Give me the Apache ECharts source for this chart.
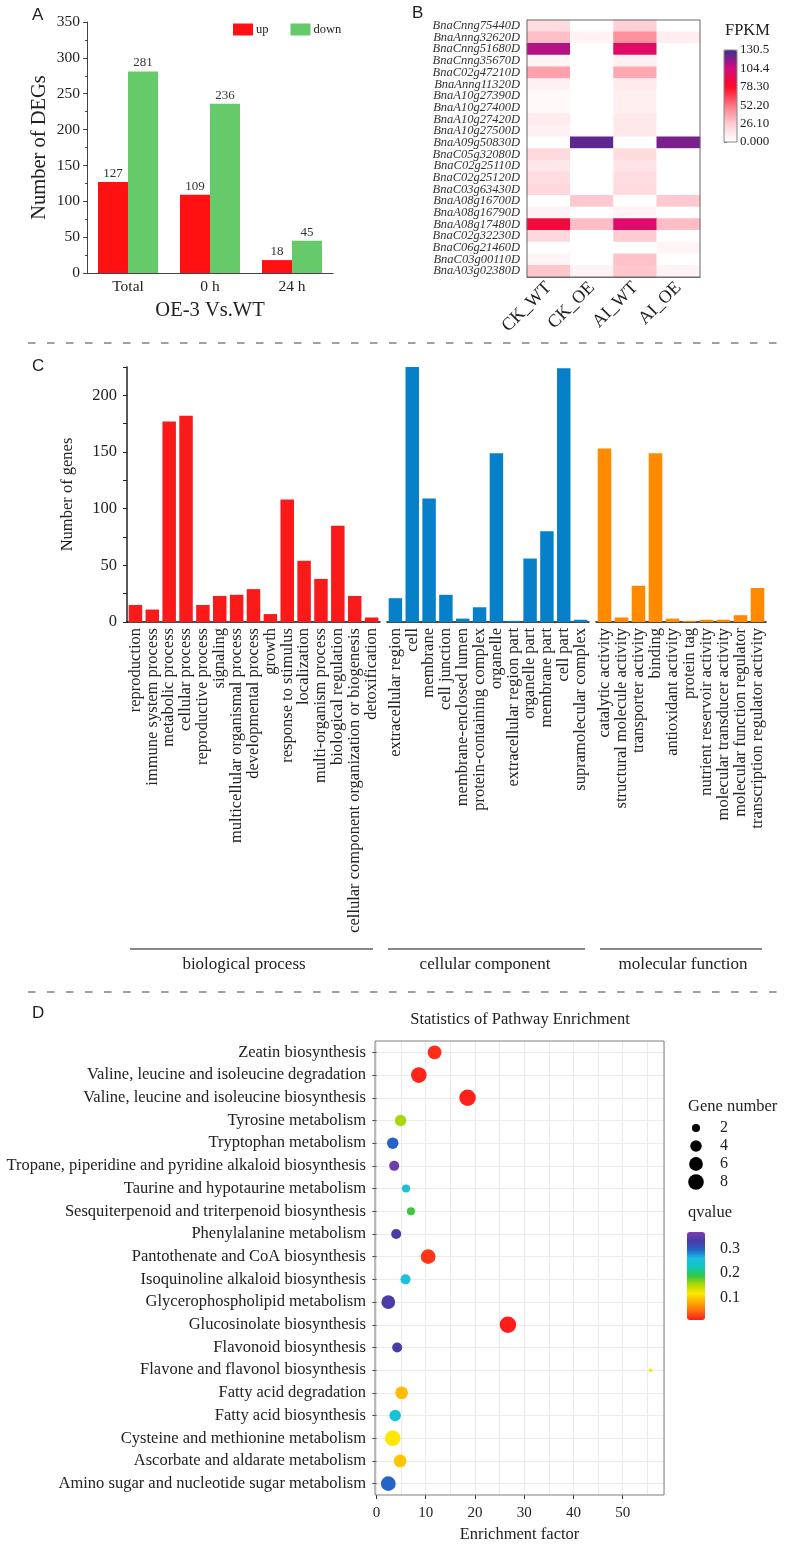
<!DOCTYPE html>
<html>
<head>
<meta charset="utf-8">
<title>DEGs, GO classification and KEGG enrichment</title>
<script src="https://cdn.jsdelivr.net/npm/echarts@6/dist/echarts.min.js"></script>
<style>
html, body { margin: 0; padding: 0; background: #fff; }
#chart { width: 786px; height: 1554px; }
</style>
</head>
<body>
<div id="chart"></div>
<script>
// ---- panel A: number of DEGs
var degGroups = ['Total', '0 h', '24 h'];
var degUp = [127, 109, 18];
var degDown = [281, 236, 45];

// ---- panel B: FPKM heatmap
var conditions = ['CK_WT', 'CK_OE', 'AI_WT', 'AI_OE'];
var genes = [
  'BnaCnng75440D', 'BnaAnng32620D', 'BnaCnng51680D', 'BnaCnng35670D', 'BnaC02g47210D',
  'BnaAnng11320D', 'BnaA10g27390D', 'BnaA10g27400D', 'BnaA10g27420D', 'BnaA10g27500D',
  'BnaA09g50830D', 'BnaC05g32080D', 'BnaC02g25110D', 'BnaC02g25120D', 'BnaC03g63430D',
  'BnaA08g16700D', 'BnaA08g16790D', 'BnaA08g17480D', 'BnaC02g32230D', 'BnaC06g21460D',
  'BnaC03g00110D', 'BnaA03g02380D'
];
// one row per gene, columns follow `conditions`
var fpkm = [
  [18, 0, 24, 0],
  [30, 6, 44, 9],
  [110, 0, 97, 0],
  [5, 0, 7, 0],
  [39, 0, 37, 0],
  [7, 0, 10, 0],
  [3, 0, 8, 0],
  [3, 0, 8, 0],
  [10, 0, 12, 0],
  [7, 0, 12, 0],
  [0, 125, 0, 120],
  [19, 0, 18, 0],
  [13, 0, 14, 0],
  [18, 0, 18, 0],
  [20, 0, 19, 0],
  [0, 27, 0, 27],
  [6, 0, 6, 0],
  [86, 31, 99, 31],
  [20, 0, 26, 0],
  [0, 0, 0, 5],
  [5, 0, 29, 0],
  [28, 6, 28, 6]
];
var fpkmMax = 130.5;
var fpkmTicks = ['0.000', '26.10', '52.20', '78.30', '104.4', '130.5'];

// ---- panel C: GO classification
var bpTerms = ['reproduction', 'immune system process', 'metabolic process', 'cellular process',
  'reproductive process', 'signaling', 'multicellular organismal process', 'developmental process',
  'growth', 'response to stimulus', 'localization', 'multi-organism process',
  'biological regulation', 'cellular component organization or biogenesis', 'detoxification'];
var bpCounts = [15, 11, 177, 182, 15, 23, 24, 29, 7, 108, 54, 38, 85, 23, 4];
var ccTerms = ['extracellular region', 'cell', 'membrane', 'cell junction', 'membrane-enclosed lumen',
  'protein-containing complex', 'organelle', 'extracellular region part', 'organelle part',
  'membrane part', 'cell part', 'supramolecular complex'];
var ccCounts = [21, 227, 109, 24, 3, 13, 149, 1, 56, 80, 224, 2];
var mfTerms = ['catalytic activity', 'structural molecule activity', 'transporter activity', 'binding',
  'antioxidant activity', 'protein tag', 'nutrient reservoir activity', 'molecular transducer activity',
  'molecular function regulator', 'transcription regulator activity'];
var mfCounts = [153, 4, 32, 149, 3, 1, 2, 2, 6, 30];

// ---- panel D: KEGG enrichment (top to bottom)
var pathways = [
  'Zeatin biosynthesis',
  'Valine, leucine and isoleucine degradation',
  'Valine, leucine and isoleucine biosynthesis',
  'Tyrosine metabolism',
  'Tryptophan metabolism',
  'Tropane, piperidine and pyridine alkaloid biosynthesis',
  'Taurine and hypotaurine metabolism',
  'Sesquiterpenoid and triterpenoid biosynthesis',
  'Phenylalanine metabolism',
  'Pantothenate and CoA biosynthesis',
  'Isoquinoline alkaloid biosynthesis',
  'Glycerophospholipid metabolism',
  'Glucosinolate biosynthesis',
  'Flavonoid biosynthesis',
  'Flavone and flavonol biosynthesis',
  'Fatty acid degradation',
  'Fatty acid biosynthesis',
  'Cysteine and methionine metabolism',
  'Ascorbate and aldarate metabolism',
  'Amino sugar and nucleotide sugar metabolism'
];
var enrichFactor = [11.8, 8.6, 18.5, 4.9, 3.3, 3.6, 6.0, 7.0, 4.0, 10.5, 5.9, 2.4, 26.7, 4.2, 55.7, 5.1, 3.8, 3.3, 4.8, 2.4];
var geneNumber = [6, 8, 9, 4, 4, 3, 2, 2, 3, 7, 3, 6, 9, 3, 1, 5, 4, 8, 5, 7];
var qValue = [0.015, 0.012, 0.010, 0.155, 0.295, 0.36, 0.25, 0.185, 0.335, 0.02, 0.25, 0.335, 0.008, 0.33, 0.12, 0.09, 0.245, 0.115, 0.095, 0.295];
var sizeBreaks = [2, 4, 6, 8];

var SERIF = "'Liberation Serif', 'Times New Roman', Times, serif";
var SANS = "'Liberation Sans', Arial, sans-serif";
var TXT = '#222';

function bubbleSize(n) {
  return 3.5 + 4.6 * Math.sqrt(n - 1);
}

var heatData = [];
fpkm.forEach(function (row, r) {
  row.forEach(function (v, c) {
    heatData.push([c, r, v]);
  });
});

var keggData = pathways.map(function (p, i) {
  return [enrichFactor[i], p, geneNumber[i], qValue[i]];
});

function serifText(size, extra) {
  var s = { fontFamily: SERIF, fontSize: size, color: TXT };
  for (var k in extra) s[k] = extra[k];
  return s;
}

var hiddenValue = function (grid, min, max) {
  return { gridIndex: grid, type: 'value', show: false, min: min, max: max, splitLine: { show: false } };
};

var goXAxis = function (grid, terms) {
  return {
    gridIndex: grid, type: 'category', data: terms,
    axisLine: { lineStyle: { color: '#111', width: 1.5 } },
    axisTick: { show: false },
    axisLabel: serifText(16.5, { rotate: 90, interval: 0, margin: 6 })
  };
};

var goYAxis = function (grid, visible) {
  return {
    gridIndex: grid, type: 'value', min: 0, max: 225, interval: 25, show: visible,
    axisLine: { show: true, lineStyle: { color: '#222', width: 1.5 } },
    axisTick: { show: true, length: 4, lineStyle: { color: '#222' } },
    axisLabel: serifText(16.5, {
      margin: 10,
      formatter: function (v) { return v % 50 === 0 ? v : ''; }
    }),
    splitLine: { show: false },
    name: visible ? 'Number of genes' : '',
    nameLocation: 'middle', nameGap: 51,
    nameTextStyle: serifText(16.5)
  };
};

var graphics = [];
function addText(x, y, text, font, size, align) {
  graphics.push({
    type: 'text', x: x, y: y, silent: true,
    style: {
      text: text, fontFamily: font, fontSize: size, fill: TXT,
      align: align || 'left', verticalAlign: 'middle'
    }
  });
}
function addLine(x1, y1, x2, y2, dashed) {
  graphics.push({
    type: 'line', silent: true,
    shape: { x1: x1, y1: y1, x2: x2, y2: y2 },
    style: dashed
      ? { stroke: '#a0a0a0', lineWidth: 2, lineDash: [7.5, 11.5] }
      : { stroke: '#111', lineWidth: 1.2 }
  });
}

// panel letters
addText(32, 15, 'A', SANS, 17);
addText(412, 13, 'B', SANS, 17);
addText(32, 366, 'C', SANS, 17);
addText(32, 1013, 'D', SANS, 17);

// panel separators
addLine(28, 343, 782, 343, true);
addLine(28, 992, 782, 992, true);

// heatmap legend title
addText(725, 31, 'FPKM', SERIF, 16.5);

// GO category brackets
addLine(130, 949, 373, 949);
addLine(388, 949, 585, 949);
addLine(600, 949, 762, 949);
addText(244, 965, 'biological process', SERIF, 17, 'center');
addText(485, 965, 'cellular component', SERIF, 17, 'center');
addText(683, 965, 'molecular function', SERIF, 17, 'center');

// KEGG titles and size legend
addText(520, 1020, 'Statistics of Pathway Enrichment', SERIF, 16.5, 'center');
addText(688, 1107, 'Gene number', SERIF, 16.5);
addText(688, 1213, 'qvalue', SERIF, 16.5);
sizeBreaks.forEach(function (n, i) {
  var cy = 1128 + i * 18;
  graphics.push({
    type: 'circle', silent: true,
    shape: { cx: 696, cy: cy, r: bubbleSize(n) / 2 },
    style: { fill: '#000' }
  });
  addText(724, cy, String(n), SERIF, 16, 'center');
});

var chart = echarts.init(document.getElementById('chart'));

var option = {
  backgroundColor: '#fff',
  animation: false,
  grid: [
    { left: 87, top: 22, width: 246, height: 251, outerBoundsMode: 'none' },
    { left: 527, top: 20, width: 173, height: 257, show: true, z: 5, backgroundColor: 'transparent', borderColor: '#666', borderWidth: 1, outerBoundsMode: 'none' },
    { left: 724, top: 50, width: 13, height: 92, show: true, z: 10, backgroundColor: 'transparent', borderColor: '#888', borderWidth: 1, outerBoundsMode: 'none' },
    { left: 127, top: 367, width: 253, height: 255, outerBoundsMode: 'none' },
    { left: 387, top: 367, width: 202, height: 255, outerBoundsMode: 'none' },
    { left: 596, top: 367, width: 170, height: 255, outerBoundsMode: 'none' },
    { left: 375, top: 1041, width: 289, height: 454, show: true, z: 5, backgroundColor: 'transparent', borderColor: '#808080', borderWidth: 1, outerBoundsMode: 'none' },
    { left: 687, top: 1232, width: 18, height: 88, outerBoundsMode: 'none' }
  ],
  legend: {
    data: ['up', 'down'],
    left: 233, top: 23, padding: 0,
    icon: 'rect', itemWidth: 20, itemHeight: 12, itemGap: 22,
    selectedMode: false,
    textStyle: serifText(12.5, { padding: [0, 0, 0, -2] })
  },
  visualMap: [
    {
      type: 'continuous', seriesIndex: 2, dimension: 2,
      min: 0, max: fpkmMax, show: true, calculable: false, hoverLink: false,
      left: 724, top: 50, padding: 0, itemWidth: 13, itemHeight: 92,
      inRange: { color: ['#ffffff', '#ffccd2', '#ff7585', '#ff0a20', '#d50a80', '#3c2f96'] }
    },
    {
      type: 'continuous', seriesIndex: 6, dimension: 3,
      min: 0.007, max: 0.368, show: true, calculable: false, hoverLink: false,
      left: 687, top: 1232, padding: 0, itemWidth: 18, itemHeight: 88,
      inRange: {
        color: ['#ff1a1a', '#ff6a10', '#ffaa00', '#ffe800', '#b5d800', '#30c845',
          '#10c8b8', '#19c0e6', '#2462c8', '#4a3aa6', '#7a3db0']
      }
    }
  ],
  xAxis: [
    {
      gridIndex: 0, type: 'category', data: degGroups,
      axisLine: { lineStyle: { color: '#444' } },
      axisTick: { show: false },
      axisLabel: serifText(15.5, { margin: 6, interval: 0 }),
      name: 'OE-3 Vs.WT', nameLocation: 'middle', nameGap: 27,
      nameTextStyle: serifText(20.5)
    },
    {
      gridIndex: 1, type: 'category', data: conditions,
      axisLine: { lineStyle: { color: '#555' } },
      axisTick: { alignWithLabel: true, length: 5, lineStyle: { color: '#555' } },
      axisLabel: serifText(18, { rotate: 45, margin: 8, interval: 0 }),
      splitLine: { show: false }
    },
    hiddenValue(2, 0, 1),
    goXAxis(3, bpTerms),
    goXAxis(4, ccTerms),
    goXAxis(5, mfTerms),
    {
      gridIndex: 6, type: 'value', min: -0.3, max: 58.4,
      axisLine: { show: false },
      axisTick: { show: true, length: 4, lineStyle: { color: '#333' } },
      axisLabel: serifText(15, { margin: 11, showMinLabel: false, showMaxLabel: false }),
      splitLine: { show: true, lineStyle: { color: '#ebebeb', width: 1.2 } },
      minorTick: { show: false, splitNumber: 2 },
      minorSplitLine: { show: true, lineStyle: { color: '#ebebeb', width: 1.2 } },
      name: 'Enrichment factor', nameLocation: 'middle', nameGap: 31,
      nameTextStyle: serifText(16.5)
    },
    hiddenValue(7, 0, 1)
  ],
  yAxis: [
    {
      gridIndex: 0, type: 'value', min: 0, max: 350, interval: 50,
      axisLine: { show: true, lineStyle: { color: '#444' } },
      axisTick: { show: true, length: 4, lineStyle: { color: '#444' } },
      minorTick: { show: true, splitNumber: 2, length: 2, lineStyle: { color: '#444' } },
      axisLabel: serifText(15.5, { margin: 7 }),
      splitLine: { show: false },
      name: 'Number of DEGs', nameLocation: 'middle', nameGap: 37,
      nameTextStyle: serifText(20.5)
    },
    {
      gridIndex: 1, type: 'category', data: genes, inverse: true,
      axisLine: { lineStyle: { color: '#555' } },
      axisTick: { alignWithLabel: true, length: 4, lineStyle: { color: '#555' } },
      axisLabel: serifText(12.5, { fontStyle: 'italic', margin: 7, interval: 0, color: '#333' }),
      splitLine: { show: false }
    },
    {
      gridIndex: 2, type: 'value', position: 'right', min: 0, max: fpkmMax, interval: 26.1,
      axisLine: { show: false },
      axisTick: { show: true, length: 3, lineStyle: { color: '#777' } },
      axisLabel: serifText(13, {
        margin: 3,
        formatter: function (v) { return fpkmTicks[Math.round(v / 26.1)]; }
      }),
      splitLine: { show: false }
    },
    goYAxis(3, true),
    goYAxis(4, false),
    goYAxis(5, false),
    {
      gridIndex: 6, type: 'category', data: pathways, inverse: true,
      axisLine: { show: false },
      axisTick: { show: true, alignWithLabel: true, length: 4, lineStyle: { color: '#333' } },
      axisLabel: serifText(16.5, { margin: 9, interval: 0 }),
      splitLine: { show: true, alignWithLabel: true, lineStyle: { color: '#ebebeb', width: 1.2 } }
    },
    {
      gridIndex: 7, type: 'value', position: 'right', min: 0.007, max: 0.368, splitNumber: 3,
      axisLine: { show: false },
      axisTick: { show: true, inside: true, length: 4, lineStyle: { color: '#fff' } },
      axisLabel: serifText(16, {
        margin: 15, showMinLabel: false, showMaxLabel: false,
        formatter: function (v) { return v.toFixed(1); }
      }),
      splitLine: { show: false }
    }
  ],
  series: [
    {
      name: 'up', type: 'bar', xAxisIndex: 0, yAxisIndex: 0, data: degUp,
      barWidth: 30, barGap: '0%', itemStyle: { color: '#ff1111' },
      label: { show: true, position: 'top', distance: 2, fontFamily: SERIF, fontSize: 13, color: '#333' }
    },
    {
      name: 'down', type: 'bar', xAxisIndex: 0, yAxisIndex: 0, data: degDown,
      barWidth: 30, barGap: '0%', itemStyle: { color: '#66c96a' },
      label: { show: true, position: 'top', distance: 2, fontFamily: SERIF, fontSize: 13, color: '#333' }
    },
    {
      type: 'heatmap', xAxisIndex: 1, yAxisIndex: 1, data: heatData,
      itemStyle: { borderWidth: 0 }, emphasis: { disabled: true }
    },
    {
      type: 'bar', xAxisIndex: 3, yAxisIndex: 3, data: bpCounts,
      barCategoryGap: '20%', itemStyle: { color: '#fa1a1a' }
    },
    {
      type: 'bar', xAxisIndex: 4, yAxisIndex: 4, data: ccCounts,
      barCategoryGap: '20%', itemStyle: { color: '#0680c8' }
    },
    {
      type: 'bar', xAxisIndex: 5, yAxisIndex: 5, data: mfCounts,
      barCategoryGap: '20%', itemStyle: { color: '#ff8a00' }
    },
    {
      type: 'scatter', xAxisIndex: 6, yAxisIndex: 6, data: keggData,
      symbol: 'circle',
      symbolSize: function (v) { return bubbleSize(v[2]); },
      itemStyle: { opacity: 1 },
      emphasis: { disabled: true }
    }
  ],
  graphic: graphics
};

chart.setOption(option);
</script>
</body>
</html>
